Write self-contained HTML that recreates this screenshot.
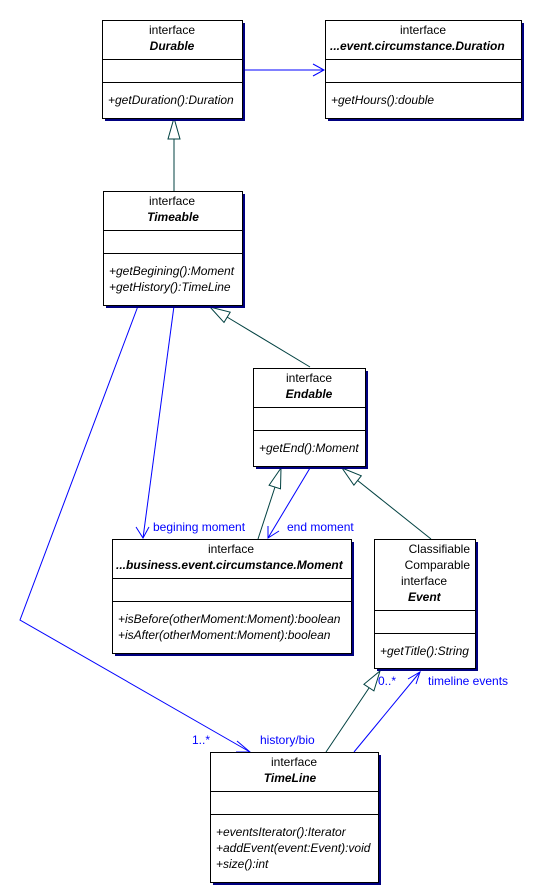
<!DOCTYPE html>
<html><head><style>
body{margin:0;background:#fff;}
svg{display:block;font-family:"Liberation Sans",sans-serif;font-size:12px;}
.b{fill:#fff;stroke:#000;stroke-width:1}
.s{fill:#000080}
.g{stroke:#004040;fill:none;stroke-width:1}
.gt{stroke:#004040;fill:#fff;stroke-width:1}
.a{stroke:#0000ff;fill:none;stroke-width:1}
.bl{fill:#0000ff}
.i{font-style:italic}
.bi{font-style:italic;font-weight:bold}
</style></head><body>
<svg width="536" height="896" viewBox="0 0 536 896">
<!-- connectors -->
<line class="a" x1="244" y1="70" x2="324" y2="70"/>
<polyline class="a" points="313,64 324,70 313,76"/>
<line class="g" x1="174" y1="139" x2="174" y2="191"/>
<polygon class="gt" points="174,118 168,139 180,139"/>
<line class="g" x1="310" y1="367" x2="227" y2="317"/>
<polygon class="gt" points="210,307 230.2,312.2 224,322.4"/>
<line class="a" x1="174" y1="306" x2="143" y2="538"/>
<polyline class="a" points="136,527 143,538 149,527"/>
<polyline class="a" points="138,306 20,620 250,752"/>
<polyline class="a" points="237,741 250,752 236,752"/>
<line class="g" x1="258" y1="539" x2="275" y2="487"/>
<polygon class="gt" points="281,468 280.5,488.8 269.1,485.2"/>
<line class="a" x1="310" y1="468" x2="268" y2="538"/>
<polyline class="a" points="268,526 268,538 279,531"/>
<line class="g" x1="431" y1="539" x2="357" y2="480"/>
<polygon class="gt" points="342,468 361.3,475.8 353.9,485.2"/>
<line class="g" x1="326" y1="752" x2="369" y2="688"/>
<polygon class="gt" points="380,671 373.9,690.9 363.9,684.3"/>
<line class="a" x1="354" y1="752" x2="420" y2="672"/>
<polyline class="a" points="408,679 420,672 416,684"/>
<text class="bl" x="153" y="531">begining moment</text>
<text class="bl" x="287" y="531">end moment</text>
<text class="bl" x="192" y="744">1..*</text>
<text class="bl" x="260" y="744">history/bio</text>
<text class="bl" x="378" y="685">0..*</text>
<text class="bl" x="428" y="685">timeline events</text>

<!-- Durable -->
<rect class="s" x="105" y="23" width="140" height="98"/>
<rect class="b" x="102.5" y="20.5" width="140" height="98"/>
<line stroke="#000" x1="102" y1="59.5" x2="242" y2="59.5"/><line stroke="#000" x1="102" y1="82.5" x2="242" y2="82.5"/>
<text x="172" y="34" text-anchor="middle">interface</text>
<text class="bi" x="172" y="50" text-anchor="middle">Durable</text>
<text class="i" x="108" y="104">+getDuration():Duration</text>

<!-- Duration -->
<rect class="s" x="328" y="23" width="196" height="98"/>
<rect class="b" x="325.5" y="20.5" width="196" height="98"/>
<line stroke="#000" x1="325" y1="59.5" x2="521" y2="59.5"/><line stroke="#000" x1="325" y1="82.5" x2="521" y2="82.5"/>
<text x="423" y="34" text-anchor="middle">interface</text>
<text class="bi" x="330" y="50">...event.circumstance.Duration</text>
<text class="i" x="331" y="104">+getHours():double</text>

<!-- Timeable -->
<rect class="s" x="106" y="194" width="139" height="114"/>
<rect class="b" x="103.5" y="191.5" width="139" height="114"/>
<line stroke="#000" x1="103" y1="230.5" x2="242" y2="230.5"/><line stroke="#000" x1="103" y1="253.5" x2="242" y2="253.5"/>
<text x="172" y="205" text-anchor="middle">interface</text>
<text class="bi" x="173" y="221" text-anchor="middle">Timeable</text>
<text class="i" x="109" y="275">+getBegining():Moment</text>
<text class="i" x="109" y="291">+getHistory():TimeLine</text>

<!-- Endable -->
<rect class="s" x="256" y="371" width="112" height="98"/>
<rect class="b" x="253.5" y="368.5" width="112" height="98"/>
<line stroke="#000" x1="253" y1="407.5" x2="365" y2="407.5"/><line stroke="#000" x1="253" y1="430.5" x2="365" y2="430.5"/>
<text x="309" y="382" text-anchor="middle">interface</text>
<text class="bi" x="309" y="398" text-anchor="middle">Endable</text>
<text class="i" x="259" y="452">+getEnd():Moment</text>

<!-- Moment -->
<rect class="s" x="115" y="542" width="239" height="114"/>
<rect class="b" x="112.5" y="539.5" width="239" height="114"/>
<line stroke="#000" x1="112" y1="578.5" x2="351" y2="578.5"/><line stroke="#000" x1="112" y1="601.5" x2="351" y2="601.5"/>
<text x="231" y="553" text-anchor="middle">interface</text>
<text class="bi" x="116" y="569">...business.event.circumstance.Moment</text>
<text class="i" x="118" y="623">+isBefore(otherMoment:Moment):boolean</text>
<text class="i" x="118" y="639">+isAfter(otherMoment:Moment):boolean</text>

<!-- Event -->
<rect class="s" x="377" y="542" width="101" height="129"/>
<rect class="b" x="374.5" y="539.5" width="101" height="129"/>
<line stroke="#000" x1="374" y1="610.5" x2="475" y2="610.5"/><line stroke="#000" x1="374" y1="633.5" x2="475" y2="633.5"/>
<text x="470" y="553" text-anchor="end">Classifiable</text>
<text x="470" y="569" text-anchor="end">Comparable</text>
<text x="401" y="585">interface</text>
<text class="bi" x="408" y="601">Event</text>
<text class="i" x="380" y="655">+getTitle():String</text>

<!-- TimeLine -->
<rect class="s" x="213" y="755" width="168" height="130"/>
<rect class="b" x="210.5" y="752.5" width="168" height="130"/>
<line stroke="#000" x1="210" y1="791.5" x2="378" y2="791.5"/><line stroke="#000" x1="210" y1="814.5" x2="378" y2="814.5"/>
<text x="294" y="766" text-anchor="middle">interface</text>
<text class="bi" x="290" y="782" text-anchor="middle">TimeLine</text>
<text class="i" x="216" y="836">+eventsIterator():Iterator</text>
<text class="i" x="216" y="852">+addEvent(event:Event):void</text>
<text class="i" x="216" y="868">+size():int</text>
</svg>
</body></html>
